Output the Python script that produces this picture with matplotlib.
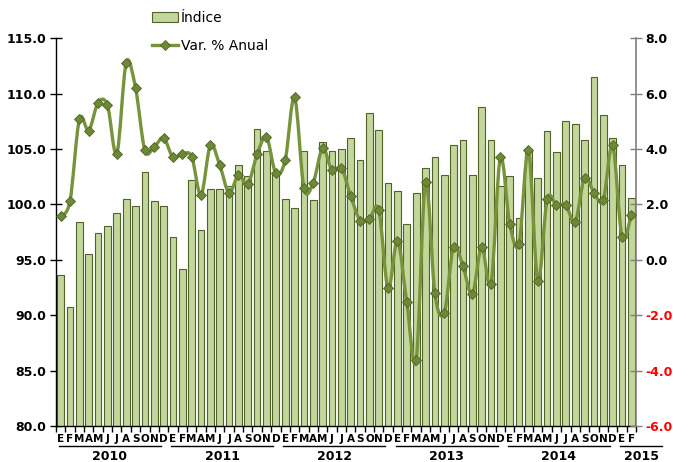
import numpy as np
import matplotlib
matplotlib.use('Agg')
import matplotlib.pyplot as plt
from matplotlib.path import Path
from matplotlib.patches import PathPatch
from matplotlib.lines import Line2D
import matplotlib.transforms as mtransforms

# monthly data, Jan 2010 - Feb 2015
months = ['E', 'F', 'M', 'A', 'M', 'J', 'J', 'A', 'S', 'O', 'N', 'D'] * 5 + ['E', 'F']
years = ['2010', '2011', '2012', '2013', '2014', '2015']

indice = [93.6, 90.7, 98.4, 95.5, 97.4, 98.1, 99.2, 100.5, 99.9, 102.9, 100.3, 99.9,
          97.1, 94.2, 102.2, 97.7, 101.4, 101.4, 101.7, 103.6, 102.6, 106.8, 104.8, 102.8,
          100.5, 99.7, 104.8, 100.4, 105.6, 104.8, 105.0, 106.0, 104.0, 108.3, 106.7, 101.9,
          101.2, 98.2, 101.0, 103.3, 104.3, 102.7, 105.4, 105.8, 102.7, 108.8, 105.8, 101.7,
          102.6, 98.8, 104.9, 102.4, 106.6, 104.7, 107.5, 107.3, 105.8, 111.5, 108.1, 106.0,
          103.6, 100.6]

var_anual = [1.57, 2.13, 5.07, 4.67, 5.68, 5.58, 3.83, 7.11, 6.21, 3.96, 4.08, 4.40,
             3.71, 3.82, 3.73, 2.34, 4.14, 3.42, 2.42, 3.06, 2.73, 3.81, 4.44, 3.12,
             3.60, 5.87, 2.60, 2.79, 4.03, 3.23, 3.32, 2.31, 1.42, 1.47, 1.81, -1.03,
             0.69, -1.54, -3.62, 2.82, -1.21, -1.91, 0.47, -0.22, -1.24, 0.47, -0.88, 3.70,
             1.30, 0.59, 3.96, -0.77, 2.18, 1.97, 1.97, 1.37, 2.97, 2.43, 2.16, 4.14,
             0.83, 1.61]

bar_face = '#C3D69B'
bar_edge = '#4F6228'
line_col = '#77933C'
mark_col = '#6B8A33'

def smooth_path(x, y):
	# excel-like smoothed line, catmull-rom as cubic bezier
	x = np.asarray(x, float)
	y = np.asarray(y, float)
	pts = np.column_stack([x, y])
	P = np.vstack([pts[0], pts, pts[-1]])
	verts = [pts[0]]
	codes = [Path.MOVETO]
	for i in range(1, len(P) - 2):
		c1 = P[i] + (P[i + 1] - P[i - 1]) / 6.0
		c2 = P[i + 1] - (P[i + 2] - P[i]) / 6.0
		verts += [c1, c2, P[i + 1]]
		codes += [Path.CURVE4] * 3
	return Path(verts, codes)

fig = plt.figure(figsize=(6.89, 4.62), dpi=100)
ax = fig.add_axes([56/689., 1 - 426/462., 580/689., 387.7/462.])
ax2 = ax.twinx()

x = np.arange(len(indice))
ax.bar(x, indice, width=0.72, color=bar_face, edgecolor=bar_edge, linewidth=0.8, zorder=2)
ax.set_ylim(80, 115)
ax.set_xlim(-0.5, len(indice) - 0.5)
ax.set_yticks(np.arange(80, 115.1, 5))
ax.set_yticklabels(['%.1f' % v for v in np.arange(80, 115.1, 5)])

pp = PathPatch(smooth_path(x, var_anual), facecolor='none', edgecolor=line_col, linewidth=2.4, zorder=3)
ax2.add_patch(pp)
ax2.plot(x, var_anual, linestyle='none', marker='D', markersize=5.5, markerfacecolor=mark_col,
         markeredgecolor='#4F6228', markeredgewidth=0.6, zorder=4)
ax2.set_ylim(-6, 8)
ax2.set_yticks(np.arange(-6, 8.1, 2))
ax2.set_yticklabels(['%.1f' % v for v in np.arange(-6, 8.1, 2)])

for a in (ax, ax2):
	a.spines['top'].set_visible(False)
ax.spines['right'].set_visible(False)
ax2.spines['left'].set_visible(False)
ax2.spines['bottom'].set_visible(False)
ax2.spines['right'].set_color('#7F7F7F')
ax2.spines['right'].set_linewidth(1.2)
ax.spines['left'].set_linewidth(1.0)
ax.spines['bottom'].set_linewidth(1.0)

ax.tick_params(axis='y', direction='inout', length=8, width=1, pad=3)
ax2.tick_params(axis='y', direction='inout', length=8, width=1, color='#7F7F7F', pad=3)
for t in ax.get_yticklabels():
	t.set_fontsize(9)
	t.set_fontweight('bold')
for t, v in zip(ax2.get_yticklabels(), np.arange(-6, 8.1, 2)):
	t.set_fontsize(9)
	t.set_fontweight('bold')
	t.set_color('red' if v < 0 else 'black')

# category axis: boundary ticks, months, years
ax.set_xticks(np.arange(-0.5, len(indice), 1))
ax.set_xticklabels([])
ax.tick_params(axis='x', direction='out', length=4, width=1)
trans = mtransforms.blended_transform_factory(ax.transData, ax.transAxes)
for i, m in enumerate(months):
	ax.text(i, -0.034, m, transform=trans, ha='center', va='center', fontsize=7.5, fontweight='bold')
for k, yr in enumerate(years):
	start = 12 * k - 0.5
	end = min(12 * k + 11.5, len(indice) - 0.5)
	if yr == '2015':
		xs = [start + 0.3, start + 4.8]
	else:
		xs = [start + 0.3, end - 0.8]
	ax.add_line(Line2D(xs, [-0.052, -0.052], transform=trans, color='black', linewidth=1.0, clip_on=False))
	ax.text(np.mean(xs), -0.078, yr, transform=trans, ha='center', va='center', fontsize=9, fontweight='bold')

ax.set_zorder(1)
ax2.set_zorder(2)

h1 = plt.Rectangle((0, 0), 1, 1, facecolor=bar_face, edgecolor=bar_edge, linewidth=0.8)
h2 = Line2D([], [], color=line_col, linewidth=2.4, marker='D', markersize=5.5,
            markerfacecolor=mark_col, markeredgecolor='#4F6228', markeredgewidth=0.6)
fig.legend([h1, h2], [u'Índice', 'Var. % Anual'], loc='upper left', bbox_to_anchor=(146/689., 1 - 5/462.),
           frameon=False, prop={'size': 10}, handlelength=1.9, handletextpad=0.2, labelspacing=1.05,
           borderaxespad=0)

plt.savefig('out.png', dpi=100)
